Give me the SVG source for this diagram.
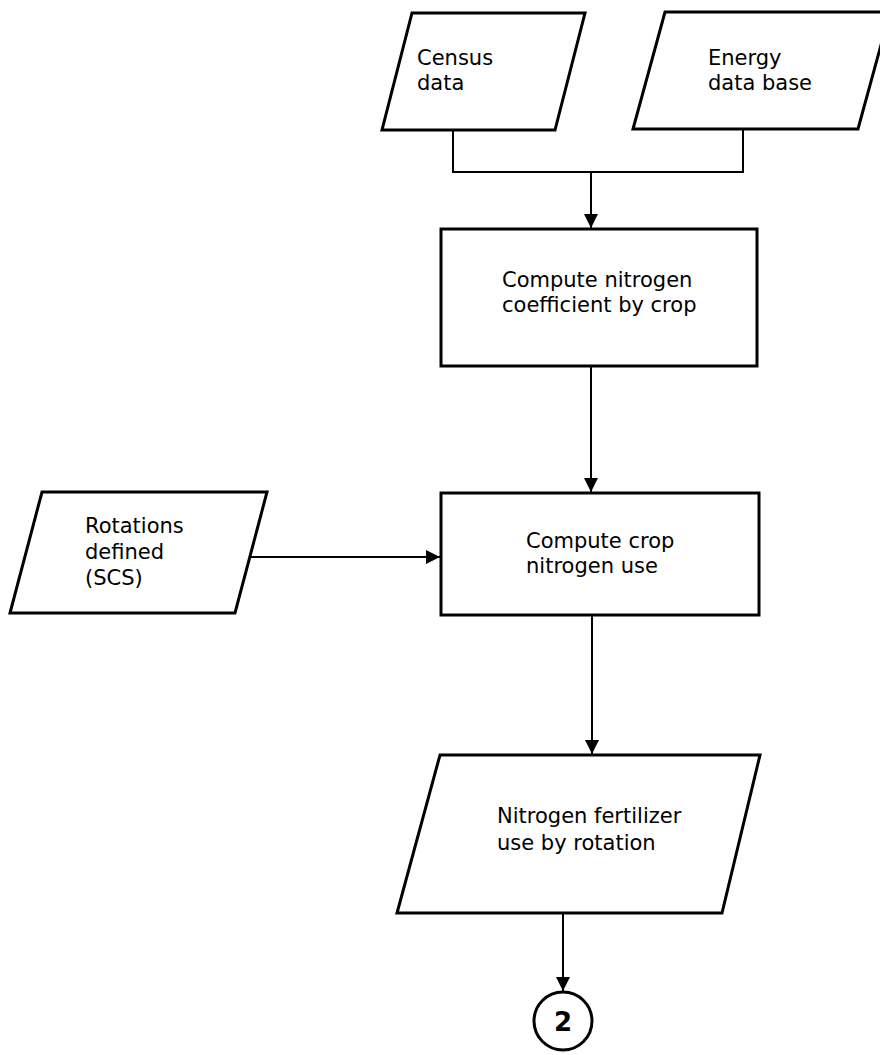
<svg xmlns="http://www.w3.org/2000/svg" width="880" height="1055" viewBox="0 0 880 1055">
<style>
.shape{fill:#fff;stroke:#000;stroke-width:3;stroke-linejoin:miter}
.conn{fill:none;stroke:#000;stroke-width:2}
text{font-family:"DejaVu Sans","Liberation Sans",sans-serif;font-size:21px;fill:#000}
</style>
<defs>
<marker id="arr" markerUnits="userSpaceOnUse" markerWidth="14" markerHeight="18" viewBox="0 0 14 18" refX="14" refY="7" orient="auto">
<path d="M0,0 L14,7 L0,14 Z" fill="#000"/>
</marker>
</defs>
<rect width="880" height="1055" fill="#fff"/>
<g id="connectors">
<polyline class="conn" points="453,130 453,172 743,172 743,130"/>
<line class="conn" x1="591" y1="172" x2="591" y2="228" marker-end="url(#arr)"/>
<line class="conn" x1="591" y1="367" x2="591" y2="492" marker-end="url(#arr)"/>
<line class="conn" x1="250" y1="557" x2="440" y2="557" marker-end="url(#arr)"/>
<line class="conn" x1="592" y1="615" x2="592" y2="754" marker-end="url(#arr)"/>
<line class="conn" x1="563" y1="913" x2="563" y2="991" marker-end="url(#arr)"/>
</g>
<g id="census">
<polygon class="shape" points="412,13 585,13 555,130 382,130"/>
<text x="417" y="65">Census</text>
<text x="417" y="90">data</text>
</g>
<g id="energy">
<polygon class="shape" points="665,12 890,12 858,129 633,129"/>
<text x="708" y="65">Energy</text>
<text x="708" y="90">data base</text>
</g>
<g id="compute-coef">
<rect class="shape" x="441" y="229" width="316" height="137"/>
<text x="502" y="287">Compute nitrogen</text>
<text x="502" y="312">coefficient by crop</text>
</g>
<g id="rotations">
<polygon class="shape" points="42,492 267,492 235,613 10,613"/>
<text x="85" y="533">Rotations</text>
<text x="85" y="559">defined</text>
<text x="85" y="585">(SCS)</text>
</g>
<g id="compute-use">
<rect class="shape" x="441" y="493" width="318" height="122"/>
<text x="526" y="548">Compute crop</text>
<text x="526" y="573">nitrogen use</text>
</g>
<g id="fertilizer">
<polygon class="shape" points="440,755 760,755 722,913 397,913"/>
<text x="497" y="823">Nitrogen fertilizer</text>
<text x="497" y="850">use by rotation</text>
</g>
<g id="connector-2">
<circle class="shape" cx="563" cy="1021" r="29"/>
<text x="563" y="1031" text-anchor="middle" style="font-size:26px;font-weight:bold">2</text>
</g>
</svg>
